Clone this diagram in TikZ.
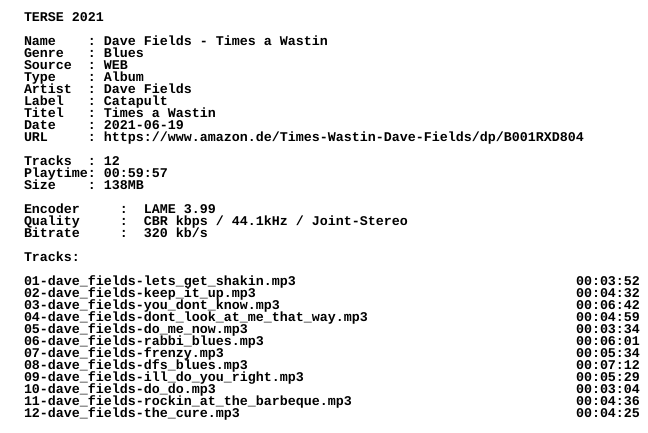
\documentclass[tikz,border=0pt]{standalone}
\usepackage{fontspec}
\newfontfamily\nfofont{Liberation Mono}
\usetikzlibrary{positioning}
\tikzset{
  nfoline/.style={font=\nfofont\bfseries\fontsize{13.33pt}{12pt}\selectfont,
    inner sep=0pt, outer sep=0pt, text height=9pt, text depth=3pt, anchor=north west},
}

\begin{document}
\begin{tikzpicture}[x=1pt,y=1pt]
            \useasboundingbox (0,0) rectangle (648,-432);
            \node (terse)  [nfoline] at (24,-12) {TERSE 2021};
            \node (name)   [nfoline, below right=12pt and 0pt of terse.south west] {Name~~~~:~Dave Fields - Times a Wastin};
            \node (genre)  [nfoline, below right=0pt and 0pt of name.south west] {Genre~~~:~Blues};
            \node (source) [nfoline, below right=0pt and 0pt of genre.south west] {Source~~:~WEB};
            \node (type)   [nfoline, below right=0pt and 0pt of source.south west] {Type~~~~:~Album};
            \node (artist) [nfoline, below right=0pt and 0pt of type.south west] {Artist~~:~Dave Fields};
            \node (label)  [nfoline, below right=0pt and 0pt of artist.south west] {Label~~~:~Catapult};
            \node (titel)  [nfoline, below right=0pt and 0pt of label.south west] {Titel~~~:~Times a Wastin};
            \node (date)   [nfoline, below right=0pt and 0pt of titel.south west] {Date~~~~:~2021-06-19};
            \node (url)    [nfoline, below right=0pt and 0pt of date.south west] {URL~~~~~:~https://www.amazon.de/Times-Wastin-Dave-Fields/dp/B001RXD804};
            \node (tracks) [nfoline, below right=12pt and 0pt of url.south west] {Tracks~~:~12};
            \node (play)   [nfoline, below right=0pt and 0pt of tracks.south west] {Playtime:~00:59:57};
            \node (size)   [nfoline, below right=0pt and 0pt of play.south west] {Size~~~~:~138MB};
            \node (enc)    [nfoline, below right=12pt and 0pt of size.south west] {Encoder~~~~~:~~LAME 3.99};
            \node (qual)   [nfoline, below right=0pt and 0pt of enc.south west] {Quality~~~~~:~~CBR kbps / 44.1kHz / Joint-Stereo};
            \node (rate)   [nfoline, below right=0pt and 0pt of qual.south west] {Bitrate~~~~~:~~320 kb/s};
            \node (list)   [nfoline, below right=12pt and 0pt of rate.south west] {Tracks:};
            \node (tr01) [nfoline, below right=12pt and 0pt of list.south west] {01-dave\_fields-lets\_get\_shakin.mp3};
            \node (tr02) [nfoline, below right=0pt and 0pt of tr01.south west] {02-dave\_fields-keep\_it\_up.mp3};
            \node (tr03) [nfoline, below right=0pt and 0pt of tr02.south west] {03-dave\_fields-you\_dont\_know.mp3};
            \node (tr04) [nfoline, below right=0pt and 0pt of tr03.south west] {04-dave\_fields-dont\_look\_at\_me\_that\_way.mp3};
            \node (tr05) [nfoline, below right=0pt and 0pt of tr04.south west] {05-dave\_fields-do\_me\_now.mp3};
            \node (tr06) [nfoline, below right=0pt and 0pt of tr05.south west] {06-dave\_fields-rabbi\_blues.mp3};
            \node (tr07) [nfoline, below right=0pt and 0pt of tr06.south west] {07-dave\_fields-frenzy.mp3};
            \node (tr08) [nfoline, below right=0pt and 0pt of tr07.south west] {08-dave\_fields-dfs\_blues.mp3};
            \node (tr09) [nfoline, below right=0pt and 0pt of tr08.south west] {09-dave\_fields-ill\_do\_you\_right.mp3};
            \node (tr10) [nfoline, below right=0pt and 0pt of tr09.south west] {10-dave\_fields-do\_do.mp3};
            \node (tr11) [nfoline, below right=0pt and 0pt of tr10.south west] {11-dave\_fields-rockin\_at\_the\_barbeque.mp3};
            \node (tr12) [nfoline, below right=0pt and 0pt of tr11.south west] {12-dave\_fields-the\_cure.mp3};
            \node (t01) [nfoline] at (576,0 |- tr01.north west) {00:03:52};
            \node (t02) [nfoline] at (576,0 |- tr02.north west) {00:04:32};
            \node (t03) [nfoline] at (576,0 |- tr03.north west) {00:06:42};
            \node (t04) [nfoline] at (576,0 |- tr04.north west) {00:04:59};
            \node (t05) [nfoline] at (576,0 |- tr05.north west) {00:03:34};
            \node (t06) [nfoline] at (576,0 |- tr06.north west) {00:06:01};
            \node (t07) [nfoline] at (576,0 |- tr07.north west) {00:05:34};
            \node (t08) [nfoline] at (576,0 |- tr08.north west) {00:07:12};
            \node (t09) [nfoline] at (576,0 |- tr09.north west) {00:05:29};
            \node (t10) [nfoline] at (576,0 |- tr10.north west) {00:03:04};
            \node (t11) [nfoline] at (576,0 |- tr11.north west) {00:04:36};
            \node (t12) [nfoline] at (576,0 |- tr12.north west) {00:04:25};
        \end{tikzpicture}
\end{document}
